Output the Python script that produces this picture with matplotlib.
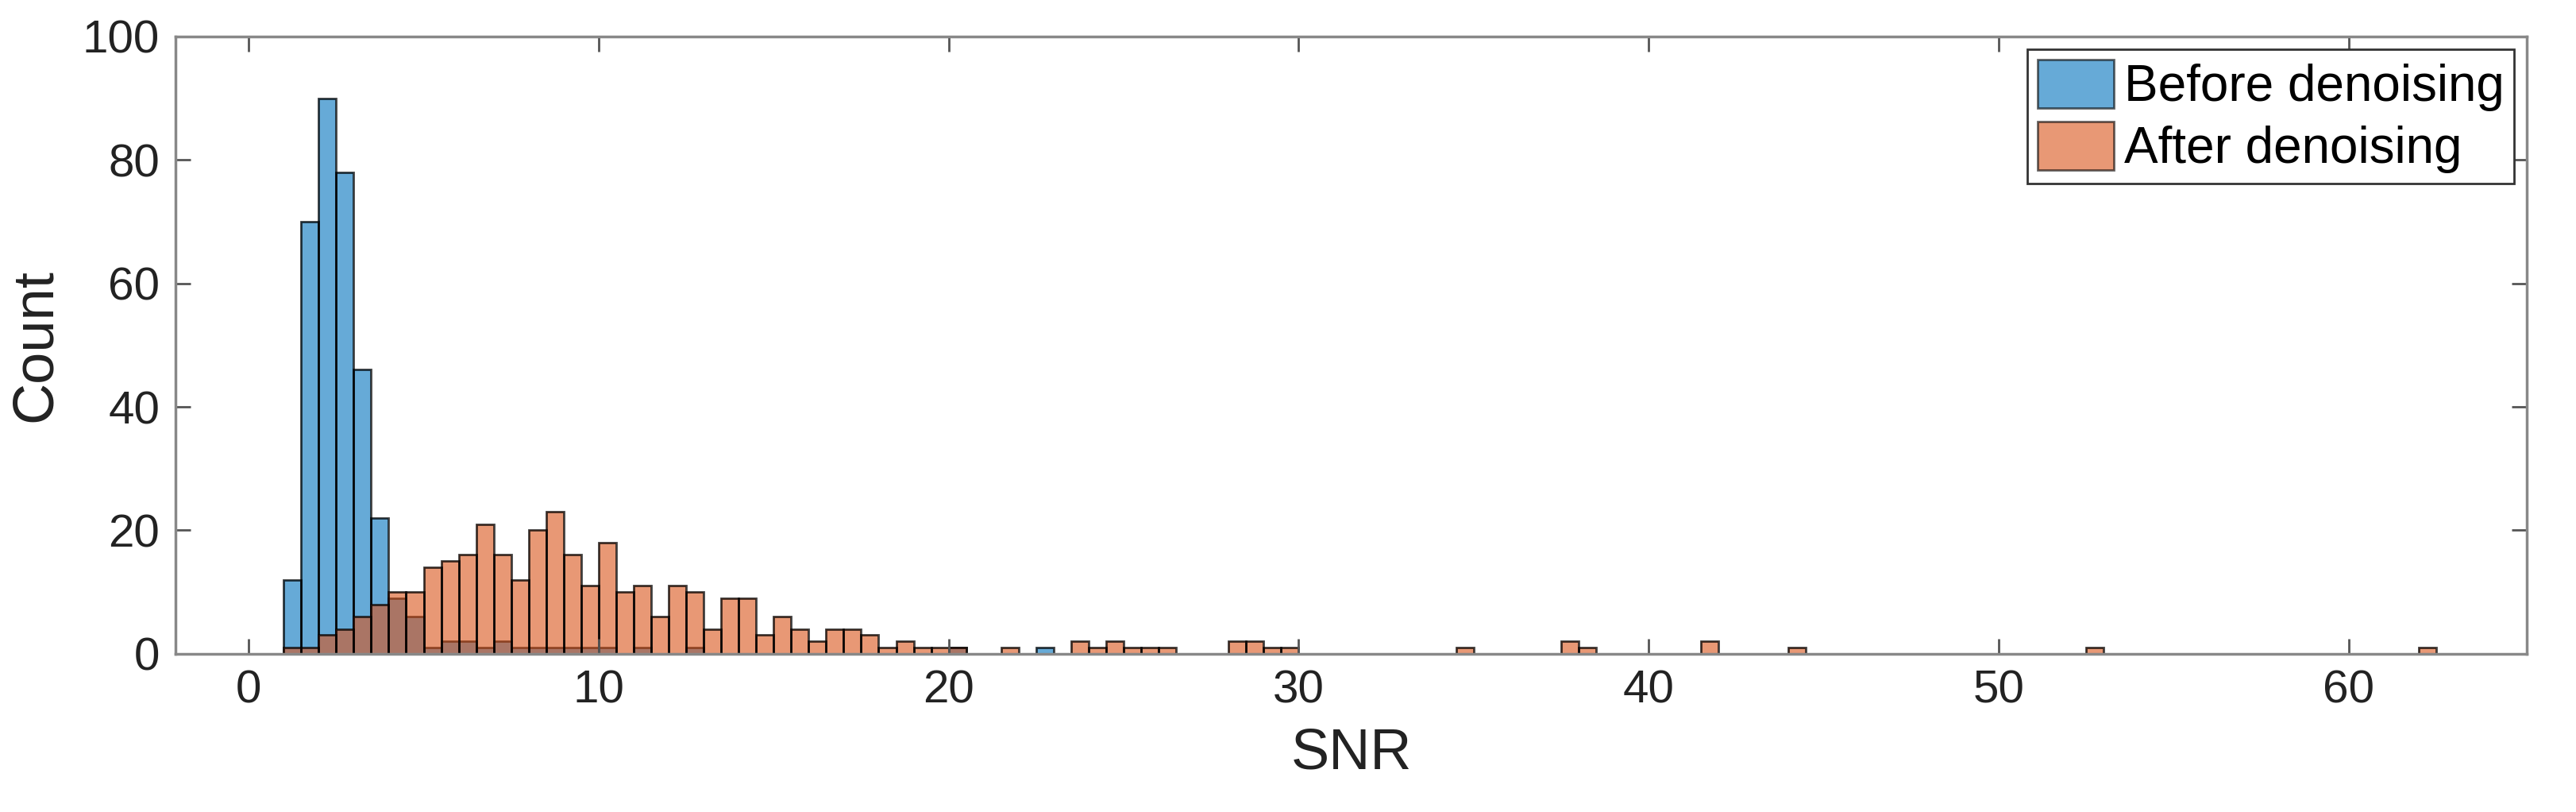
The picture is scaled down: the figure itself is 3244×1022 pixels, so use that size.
import numpy as np
import matplotlib
matplotlib.use("Agg")
import matplotlib.pyplot as plt

plt.rcParams['font.family'] = ['Liberation Sans', 'DejaVu Sans']

bin_width = 0.5
# Before denoising: bin left edges and counts
before_left = [1.0, 1.5, 2.0, 2.5, 3.0, 3.5, 4.0, 4.5, 5.0, 5.5, 6.0, 6.5, 7.0, 7.5,
               8.0, 8.5, 9.0, 9.5, 10.0, 11.0, 12.5, 20.0, 22.5]
before_counts = [12, 70, 90, 78, 46, 22, 9, 6, 1, 2, 2, 1, 2, 1,
                 1, 1, 1, 1, 1, 1, 1, 1, 1]
# After denoising
after_left = [1.0, 1.5, 2.0, 2.5, 3.0, 3.5, 4.0, 4.5, 5.0, 5.5, 6.0, 6.5, 7.0, 7.5,
              8.0, 8.5, 9.0, 9.5, 10.0, 10.5, 11.0, 11.5, 12.0, 12.5, 13.0, 13.5,
              14.0, 14.5, 15.0, 15.5, 16.0, 16.5, 17.0, 17.5, 18.0, 18.5, 19.0,
              19.5, 20.0, 21.5, 23.5, 24.0, 24.5, 25.0, 25.5, 26.0, 28.0, 28.5,
              29.0, 29.5, 34.5, 37.5, 38.0, 41.5, 44.0, 52.5, 62.0]
after_counts = [1, 1, 3, 4, 6, 8, 10, 10, 14, 15, 16, 21, 16, 12,
                20, 23, 16, 11, 18, 10, 11, 6, 11, 10, 4, 9,
                9, 3, 6, 4, 2, 4, 4, 3, 1, 2, 1,
                1, 1, 1, 2, 1, 2, 1, 1, 1, 2, 2,
                1, 1, 1, 2, 1, 2, 1, 1, 1]

fig = plt.figure(figsize=(32.44, 10.22), dpi=100)
ax = fig.add_axes([0.068, 0.195, 0.913, 0.76])

blue = (0, 0.447, 0.741)
orange = (0.85, 0.325, 0.098)
ax.bar(before_left, before_counts, width=bin_width, align='edge', color=blue, alpha=0.6,
       edgecolor='none', label='Before denoising')
ax.bar(before_left, before_counts, width=bin_width, align='edge', fill=False,
       edgecolor=(0, 0, 0, 0.75), linewidth=2)
ax.bar(after_left, after_counts, width=bin_width, align='edge', color=orange, alpha=0.6,
       edgecolor='none', label='After denoising')
ax.bar(after_left, after_counts, width=bin_width, align='edge', fill=False,
       edgecolor=(0, 0, 0, 0.75), linewidth=2)

ax.set_xlim(-2.1, 65.1)
ax.set_ylim(0, 100)
ax.set_xticks(range(0, 61, 10))
ax.set_yticks(range(0, 101, 20))
ax.tick_params(axis='both', direction='in', length=14, width=2, color='#555555',
               labelsize=42, top=True, right=True, pad=14, labelcolor='#222222')
for s in ax.spines.values():
    s.set_color('#888888')
    s.set_linewidth(2.5)
ax.set_xlabel('SNR', fontsize=52, color='#222222', labelpad=14)
ax.set_ylabel('Count', fontsize=52, color='#222222', labelpad=18)

from matplotlib.patches import Patch
handles = [Patch(facecolor=blue, alpha=0.6, edgecolor='black', linewidth=2),
           Patch(facecolor=orange, alpha=0.6, edgecolor='black', linewidth=2)]
leg = ax.legend(handles, ['Before denoising', 'After denoising'], loc='upper right',
                fontsize=46, fancybox=False, framealpha=1, edgecolor='#333333',
                handlelength=1.5, handleheight=1.1, handletextpad=0.2,
                borderpad=0.2, labelspacing=0.2, borderaxespad=0.25)
leg.get_frame().set_linewidth(2)

fig.savefig('out.png', dpi=100)
